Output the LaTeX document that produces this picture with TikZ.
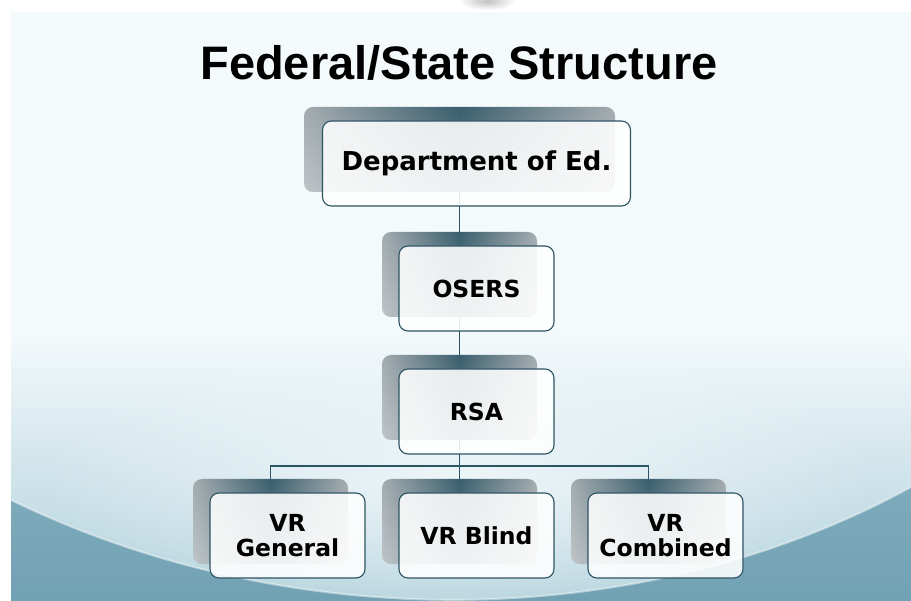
\documentclass[tikz,border=0pt]{standalone}
\usepackage{fontspec}
\newfontfamily\titlefont{Liberation Sans}
\newfontfamily\boxfont{DejaVu Sans}
\usetikzlibrary{fadings}
\definecolor{fsSky}{RGB}{244,250,252}
\definecolor{fsHaze}{RGB}{176,208,219}
\definecolor{fsSea}{RGB}{126,171,188}
\definecolor{fsDeep}{RGB}{108,158,176}
\definecolor{fsTeal}{RGB}{58,94,109}
\definecolor{fsEdge}{RGB}{164,172,176}
\definecolor{fsLine}{RGB}{45,84,100}

\tikzfading[name=fade down, top color=transparent!100, bottom color=transparent!70]
\tikzfading[name=soft glow, inner color=transparent!20, outer color=transparent!100]

\tikzset{
  backbox/.style={rectangle, rounded corners=9pt, minimum width=#1, minimum height=85pt, inner sep=0pt, left color=fsEdge, right color=fsEdge, middle color=fsTeal, postaction={fill=white, path fading=fade down}},
  backbox/.default=155pt,
  frontbox/.style={rectangle, rounded corners=9pt, draw=fsLine, line width=1.1pt, fill=white, fill opacity=0.88, text opacity=1, minimum width=#1, minimum height=85pt, inner sep=0pt, align=center, font=\boxfont\bfseries\fontsize{23.5}{25}\selectfont, xshift=17pt, yshift=-14pt},
  frontbox/.default=155pt,
  link/.style={draw=fsLine, line width=1.1pt},
}

\begin{document}
\begin{tikzpicture}[x=1pt, y=-1pt]
  \useasboundingbox (0,0) rectangle (911,601);

  % slide background
  \fill[white] (0,0) rectangle (911,601);
  \begin{scope}
    \clip (0,0) rectangle (911,12);
    \fill[black!30, path fading=soft glow] (487,1) ellipse (28 and 9);
  \end{scope}
  \fill[fsSky] (11,12) rectangle (911,601);
  \shade[top color=fsSky, bottom color=fsHaze] (11,330) rectangle (911,601);
  \fill[fsSky, path fading=soft glow] (460,480) ellipse (420 and 150);
  \shade[top color=fsSea, bottom color=fsDeep] (11,500) .. controls (300,640) and (650,630) .. (911,487) -- (911,601) -- (11,601) -- cycle;
  \draw[white, opacity=0.45, line width=2pt] (11,500) .. controls (300,640) and (650,630) .. (911,487);

  \node[font=\titlefont\bfseries\fontsize{47}{50}\selectfont, anchor=base] (title) at (459,80) {Federal/State Structure};

  \node[backbox=311pt] (dept-bk) at (459.5,149.5) {};
  \node[backbox] (osers-bk) at (459.5,274.5) {};
  \node[backbox] (rsa-bk) at (459.5,397.5) {};
  \node[backbox] (gen-bk) at (270.5,521.5) {};
  \node[backbox] (blind-bk) at (459.5,521.5) {};
  \node[backbox] (comb-bk) at (648.5,521.5) {};

  \coordinate (bus) at (459.5,466);
  \draw[link] (dept-bk.south) -- (osers-bk.north);
  \draw[link] (osers-bk.south) -- (rsa-bk.north);
  \draw[link] (rsa-bk.south) -- (bus);
  \foreach \n in {gen,blind,comb} {
    \draw[link] (bus) -| (\n-bk.north);
  }

  \node[frontbox=308pt, font=\boxfont\bfseries\fontsize{26}{30}\selectfont] (dept) at (dept-bk) {Department of Ed.};
  \node[frontbox] (osers) at (osers-bk) {OSERS};
  \node[frontbox] (rsa) at (rsa-bk) {RSA};
  \node[frontbox] (gen) at (gen-bk) {VR\\General};
  \node[frontbox] (blind) at (blind-bk) {VR Blind};
  \node[frontbox] (comb) at (comb-bk) {VR\\Combined};
\end{tikzpicture}
\end{document}
